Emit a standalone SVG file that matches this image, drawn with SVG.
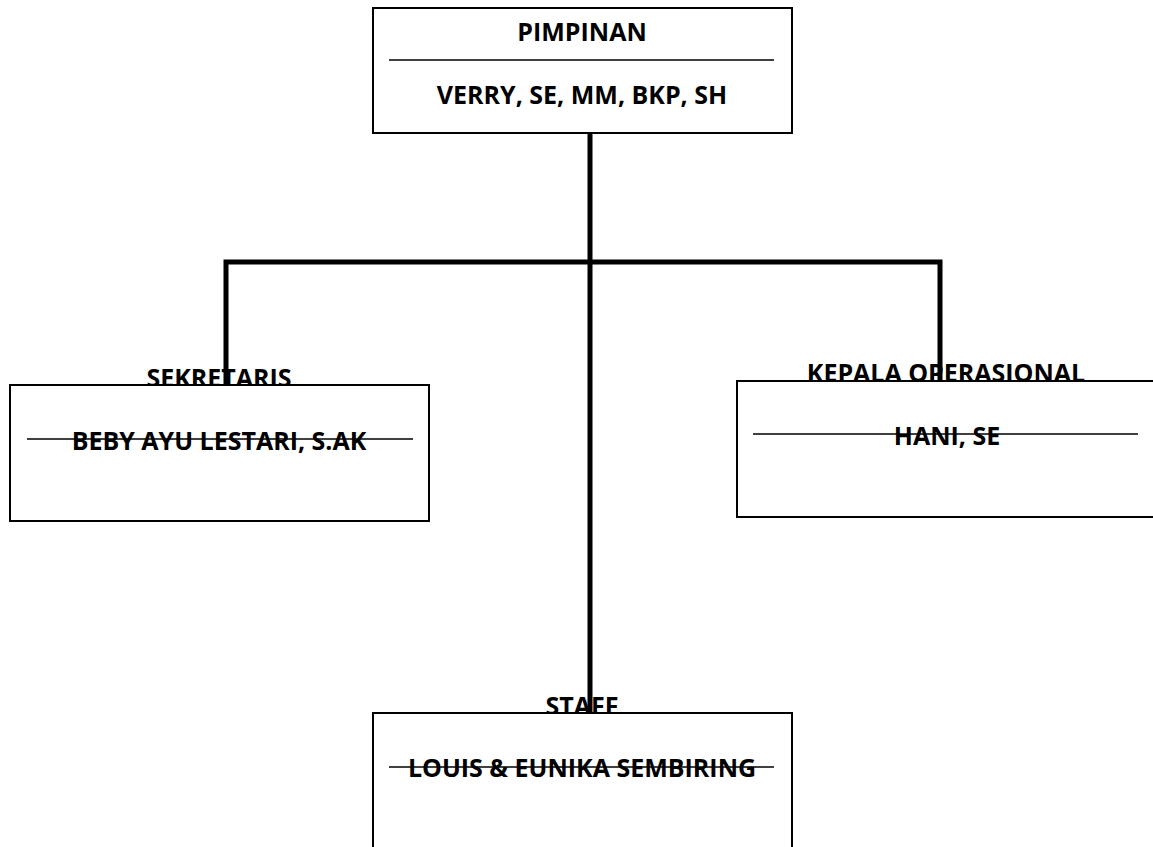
<svg xmlns="http://www.w3.org/2000/svg" width="1153" height="847" viewBox="0 0 1153 847">
<style>
.box{fill:#fff;stroke:#000;stroke-width:2}
.rule{stroke:#000;stroke-width:1.6}
.t{font-family:"Open Sans","Liberation Sans",sans-serif;font-weight:bold;font-size:25px;fill:#000;text-anchor:middle}
.conn{fill:none;stroke:#000;stroke-width:5;stroke-linejoin:miter;stroke-linecap:butt}
</style>
<rect width="1153" height="847" fill="#fff"/>
<g id="pimpinan">
<rect class="box" x="373" y="8" width="419" height="125"/>
<text class="t" x="582" y="41">PIMPINAN</text>
<line class="rule" x1="389" y1="60" x2="774" y2="60"/>
<text class="t" x="582" y="104">VERRY, SE, MM, BKP, SH</text>
</g>
<g id="sekretaris">
<text class="t" x="219" y="387">SEKRETARIS</text>
<rect class="box" x="10" y="385" width="419" height="136"/>
<text class="t" x="219" y="450">BEBY AYU LESTARI, S.AK</text>
<line class="rule" x1="27" y1="439" x2="413" y2="439"/>
</g>
<g id="kepala-operasional">
<text class="t" x="946" y="382">KEPALA OPERASIONAL</text>
<rect class="box" x="737" y="381" width="422" height="136"/>
<text class="t" x="947" y="445">HANI, SE</text>
<line class="rule" x1="753" y1="434" x2="1138" y2="434"/>
</g>
<g id="staff">
<text class="t" x="582" y="715">STAFF</text>
<rect class="box" x="373" y="713" width="419" height="140"/>
<text class="t" x="582" y="777">LOUIS &amp; EUNIKA SEMBIRING</text>
<line class="rule" x1="389" y1="767" x2="774" y2="767"/>
</g>
<g id="connectors">
<line class="conn" x1="590" y1="133" x2="590" y2="713"/>
<path class="conn" d="M226,385 V262 H940 V381"/>
</g>
</svg>
